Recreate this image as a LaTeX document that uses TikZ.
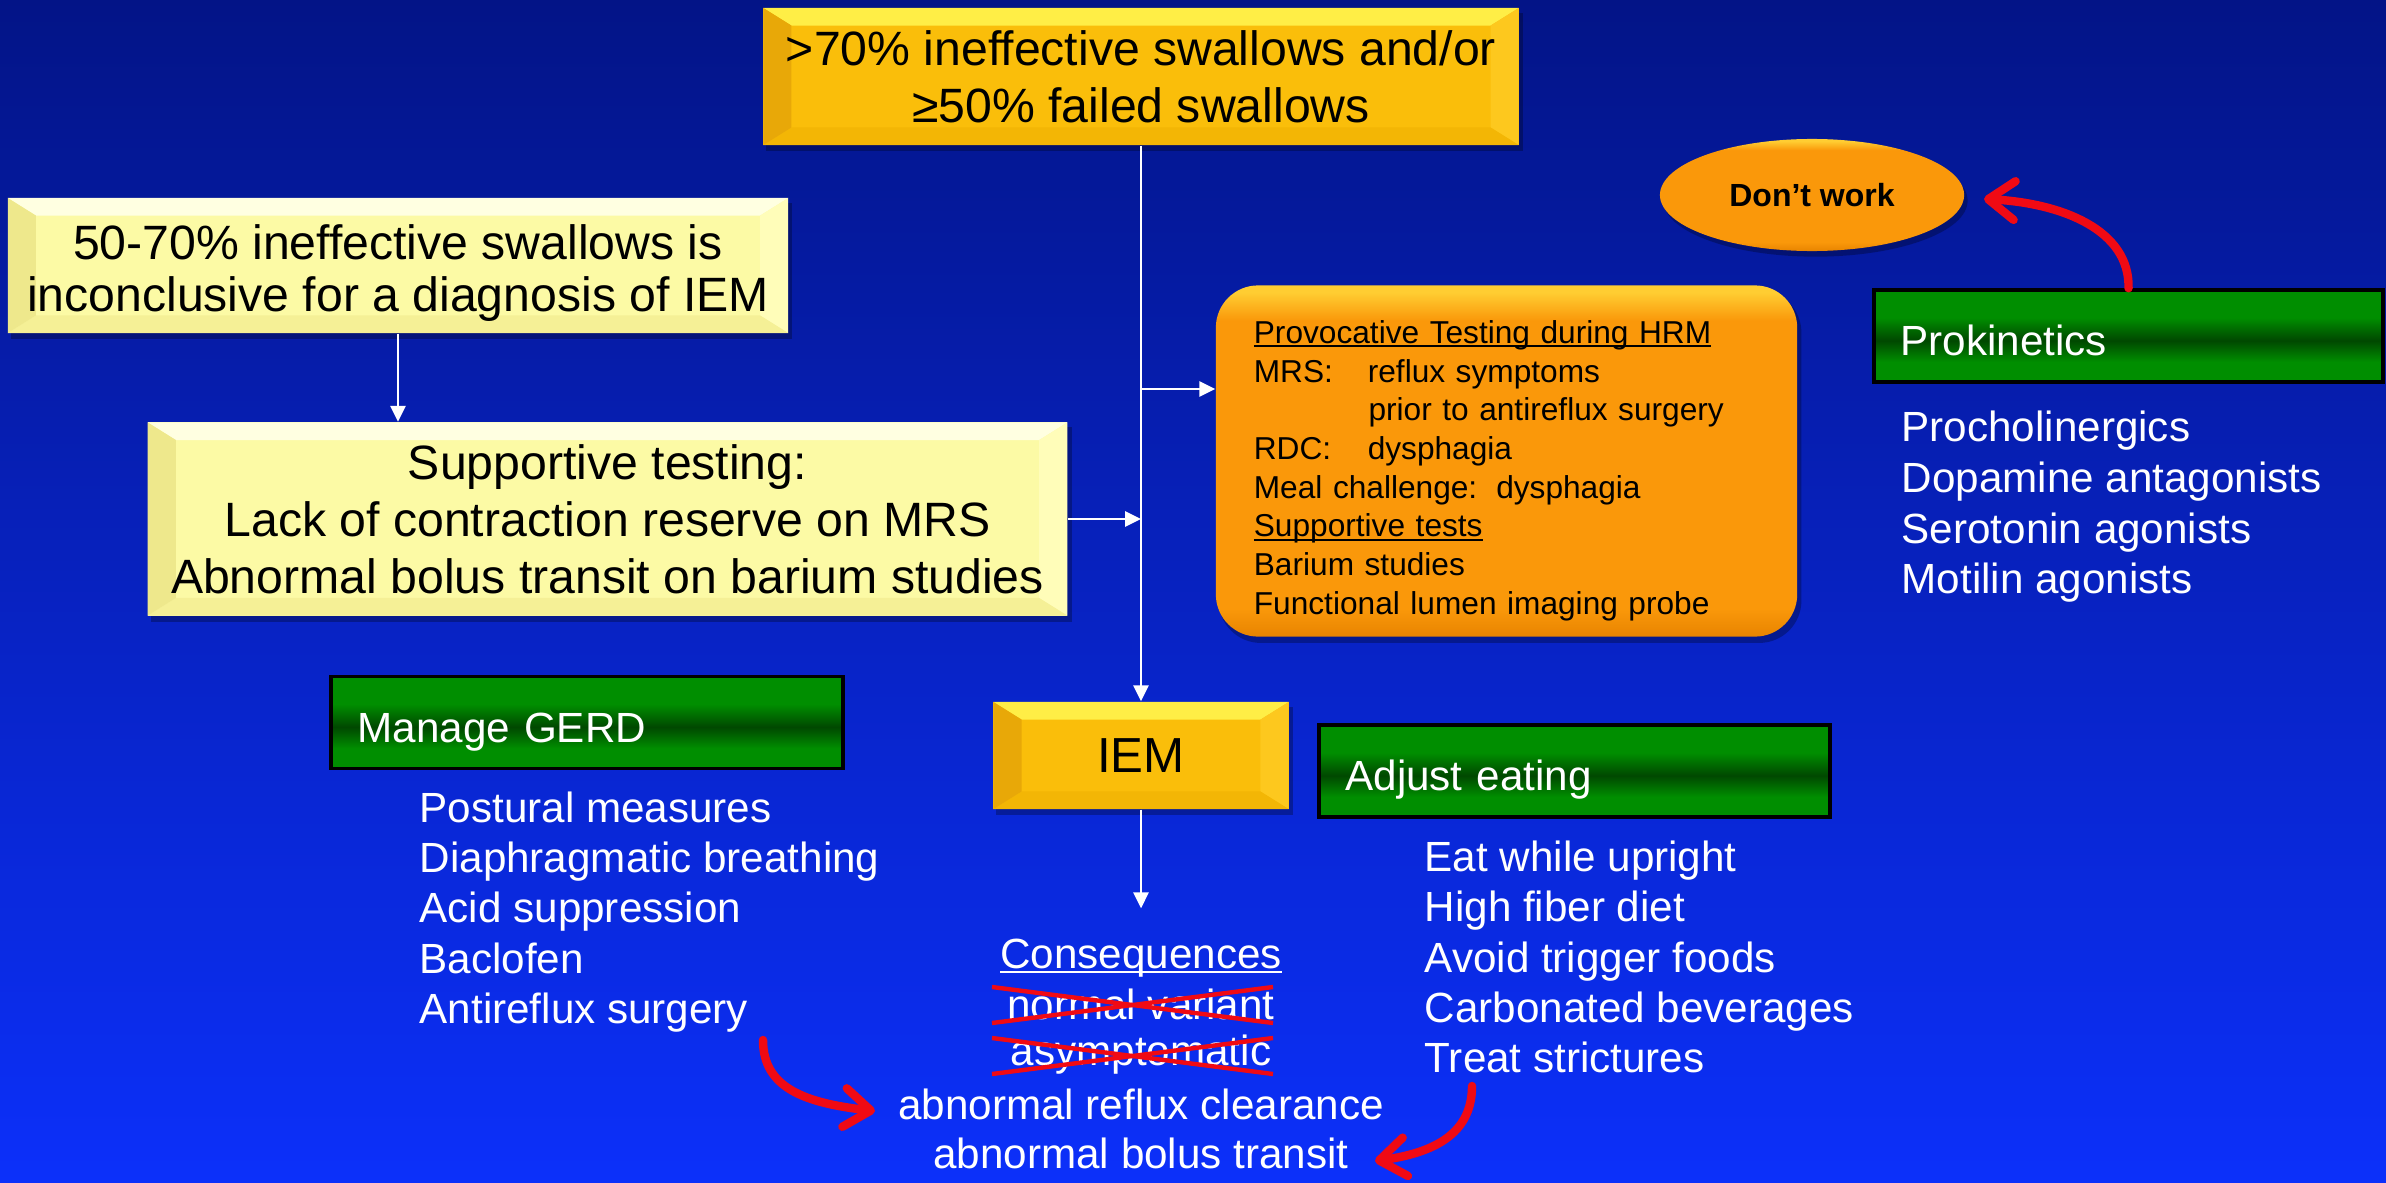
\documentclass[tikz,border=0pt]{standalone}
\usepackage{fontspec}
\setmainfont{Liberation Sans}
\usetikzlibrary{arrows.meta,shapes.geometric,calc}
\definecolor{bgT}{RGB}{3,20,135}
\definecolor{bgB}{RGB}{12,48,250}
\definecolor{gA}{RGB}{0,142,0}
\definecolor{gD}{RGB}{0,72,0}
\definecolor{goldM}{RGB}{250,190,10}
\definecolor{goldT}{RGB}{255,238,70}
\definecolor{goldL}{RGB}{232,168,8}
\definecolor{goldR}{RGB}{253,200,30}
\definecolor{goldB}{RGB}{243,182,5}
\definecolor{yelM}{RGB}{252,250,165}
\definecolor{yelT}{RGB}{255,255,225}
\definecolor{yelL}{RGB}{238,232,140}
\definecolor{yelR}{RGB}{255,253,185}
\definecolor{yelB}{RGB}{245,240,150}
\definecolor{orM}{RGB}{250,152,10}
\definecolor{orD}{RGB}{232,132,0}
\definecolor{orH}{RGB}{255,205,50}
\definecolor{redA}{RGB}{240,10,20}
\pgfdeclareverticalshading{greenband}{100bp}{color(0bp)=(gA); color(36bp)=(gA); color(47.5bp)=(gD); color(60bp)=(gA); color(100bp)=(gA)}
\pgfdeclareverticalshading{orangeglow}{100bp}{color(0bp)=(orD); color(25bp)=(orD); color(29bp)=(orM); color(70bp)=(orM); color(74bp)=(orH); color(100bp)=(orH)}
\pgfdeclarelayer{bg}
\pgfdeclarelayer{shadowlayer}
\pgfsetlayers{bg,shadowlayer,main}
\newcommand\myul[1]{\leavevmode\setbox0\hbox{#1}\rlap{\rule[-0.12em]{\wd0}{0.06em}}\box0}
\tikzset{
  bevel/.style n args={5}{fill=#1, path picture={
    \fill[#2] (path picture bounding box.north west) -- (path picture bounding box.north east) -- ([shift={(-8pt,-5pt)}]path picture bounding box.north east) -- ([shift={(8pt,-5pt)}]path picture bounding box.north west) -- cycle;
    \fill[#3] (path picture bounding box.north east) -- (path picture bounding box.south east) -- ([shift={(-8pt,5pt)}]path picture bounding box.south east) -- ([shift={(-8pt,-5pt)}]path picture bounding box.north east) -- cycle;
    \fill[#4] (path picture bounding box.south east) -- (path picture bounding box.south west) -- ([shift={(8pt,5pt)}]path picture bounding box.south west) -- ([shift={(-8pt,5pt)}]path picture bounding box.south east) -- cycle;
    \fill[#5] (path picture bounding box.south west) -- (path picture bounding box.north west) -- ([shift={(8pt,-5pt)}]path picture bounding box.north west) -- ([shift={(8pt,5pt)}]path picture bounding box.south west) -- cycle;
  }},
  goldbox/.style={bevel={goldM}{goldT}{goldR}{goldB}{goldL}, inner sep=0pt, align=center, text=black, font=\fontsize{13.7}{16.2}\selectfont},
  yelbox/.style={bevel={yelM}{yelT}{yelR}{yelB}{yelL}, inner sep=0pt, align=center, text=black, font=\fontsize{13.7}{16.2}\selectfont},
  warrow/.style={draw=white, line width=0.6pt, -{Triangle[length=4.5pt,width=4.3pt]}},
  redarrow/.style={draw=redA, line width=2.4pt, line cap=round, -{Straight Barb[length=7.5pt,width=11pt,round]}},
  redx/.style={draw=redA, line width=1.25pt},
  wlist/.style={text=white, font=\fontsize{12}{14.26}\selectfont, align=left, inner sep=0pt},
  wtext/.style={text=white, font=\fontsize{12}{14.26}\selectfont, inner sep=0pt},
  greenbox/.style={draw=black, line width=1pt, shade, shading=greenband, text=white, font=\fontsize{12}{14}\selectfont, align=left, inner xsep=7.3pt, inner ysep=0pt, text height=12pt, text depth=0.8pt, minimum height=0.92cm},
  shadowfill/.style={fill=black, opacity=0.28}
}
\begin{document}
\begin{tikzpicture}[x=0.01cm,y=-0.01cm]
\begin{pgfonlayer}{bg}
\shade[top color=bgT,bottom color=bgB] (0,0) rectangle (2386,1182);
\end{pgfonlayer}
\useasboundingbox (0,0) rectangle (2386,1182);

% main boxes
\node[goldbox, minimum width=7.55cm, minimum height=1.37cm] (top) at (1141,76.5) {>70\% ineffective swallows and/or\\≥50\% failed swallows};
\node[yelbox, minimum width=7.80cm, minimum height=1.35cm, font=\fontsize{13.7}{14.8}\selectfont] (box2) at (398,265.5) {\rule{0pt}{14.2pt}50-70\% ineffective swallows is\\inconclusive for a diagnosis of IEM};
\node[yelbox, minimum width=9.19cm, minimum height=1.93cm] (box4) at (607.5,519) {Supportive testing:\\Lack of contraction reserve on MRS\\Abnormal bolus transit on barium studies};
\node[shade, shading=orangeglow, rounded corners=12pt, minimum width=5.81cm, minimum height=3.51cm, text width=5.05cm, inner sep=0pt, align=left, font=\fontsize{9}{11}\selectfont] (orange) at (1506.5,461)
 {\rule{0pt}{12pt}\myul{Provocative Testing during HRM}\\
  \makebox[32.4pt][l]{MRS:}reflux symptoms\\
  \hspace*{32.6pt}prior to antireflux surgery\\
  \makebox[32.4pt][l]{RDC:}dysphagia\\
  Meal challenge:\hspace{0.6em}dysphagia\\
  \myul{Supportive tests}\\
  Barium studies\\
  Functional lumen imaging probe};
\node[goldbox, minimum width=2.95cm, minimum height=1.07cm, font=\fontsize{14}{16}\selectfont] (iem) at (1141,755.5) {IEM};

\node[shade, shading=orangeglow, ellipse, minimum width=3.04cm, minimum height=1.12cm, inner sep=0pt, font=\bfseries\fontsize{9.1}{11}\selectfont] (dw) at (1812,195) {Don’t work};

% green headers and lists
\node[greenbox, minimum width=5.12cm, text width=130.5pt] (gerd) at (587,722.5) {Manage GERD};
\node[greenbox, minimum width=5.11cm, text width=130.3pt] (adj) at (1574.5,771) {Adjust eating};
\node[greenbox, minimum width=5.09cm, text width=129.7pt] (prok) at (2128.5,336) {Prokinetics};

\node[wlist, anchor=west] (gerdlist) at (419,912) {Postural measures\\Diaphragmatic breathing\\Acid suppression\\Baclofen\\Antireflux surgery};
\node[wlist, anchor=west] (adjlist) at (1424,957) {Eat while upright\\High fiber diet\\Avoid trigger foods\\Carbonated beverages\\Treat strictures};
\node[wlist, anchor=west, font=\fontsize{12}{14.4}\selectfont] (proklist) at (1901,507) {Procholinergics\\Dopamine antagonists\\Serotonin agonists\\Motilin agonists};

% consequences
\node[wtext, inner ysep=8.5pt] (cons) at (1141,958) {\myul{Consequences}};
\node[wtext] (nv) at (1141,1004) {normal variant};
\node[wtext] (asym) at (1141,1055) {asymptomatic};
\node[wtext] (arc) at (1141,1104) {abnormal reflux clearance};
\node[wtext] (abt) at (1141,1153) {abnormal bolus transit};

\draw[redx] ($(nv)+(-149,-17)$) -- ($(nv)+(132,19)$);
\draw[redx] ($(nv)+(-149,19)$) -- ($(nv)+(132,-17)$);
\draw[redx] ($(asym)+(-149,-17)$) -- ($(asym)+(132,19)$);
\draw[redx] ($(asym)+(-149,19)$) -- ($(asym)+(132,-17)$);

% shadows
\begin{pgfonlayer}{shadowlayer}
\foreach \n in {top,box2,box4,iem}
  \fill[shadowfill] ([shift={(1pt,-1.6pt)}]\n.south west) rectangle ([shift={(1pt,-1.6pt)}]\n.north east);
\fill[shadowfill, rounded corners=12pt] ([shift={(1pt,-1.6pt)}]orange.south west) rectangle ([shift={(1pt,-1.6pt)}]orange.north east);
\fill[shadowfill] ([shift={(1pt,-1.6pt)}]dw.center) ellipse [x radius=1.52cm, y radius=0.56cm];
\end{pgfonlayer}

% white connectors
\coordinate (jn) at (1141,389);
\draw[warrow] (top.south) -- (iem.north);
\draw[warrow] (box2.south) -- (box2.south |- box4.north);
\draw[warrow] (box4.east) -- (box4.east -| top.south);
\draw[warrow] (jn) -- (jn -| orange.west);
\draw[warrow] (iem.south) -- (cons.north);

% red arrows
\coordinate (r1s) at (763,1040);
\coordinate (r1e) at (875,1111);
\coordinate (r2s) at (1472,1086);
\coordinate (r2e) at (1375,1161);
\coordinate (r3e) at (1984,199);
\draw[redarrow] (r1s) .. controls (763,1088) and (805,1103) .. (r1e);
\draw[redarrow] (r2s) .. controls (1472,1130) and (1440,1152) .. (r2e);
\draw[redarrow] (prok.north) .. controls (2130,230) and (2062,203) .. (r3e);
\end{tikzpicture}
\end{document}
